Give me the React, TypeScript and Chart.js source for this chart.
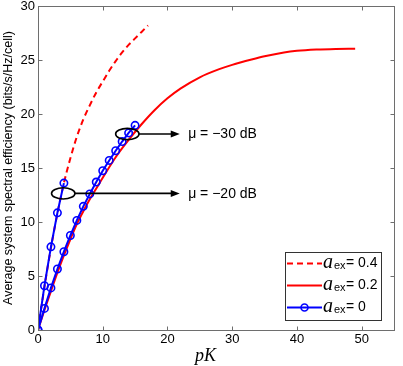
import React, { useEffect, useRef } from "react";
import { Chart, registerables } from "chart.js";

Chart.register(...registerables);

// ---- data ----
const redDashX = [0, 1, 2, 3, 4, 5, 6, 7, 8, 9, 10, 11, 12, 13, 14, 15, 16, 17];
const redDashY = [0, 4.0, 7.6, 10.8, 13.6, 15.9, 17.9, 19.5, 20.8, 22.0, 23.0, 24.0, 24.9, 25.7, 26.4, 27.0, 27.6, 28.2];

const redSolidX = [0, 1, 2, 3, 4, 5, 6, 7, 8, 9, 10, 12, 14, 16, 18, 20, 22, 25, 28, 30, 33, 35, 38, 40, 43, 46, 49];
const redSolidY = [0, 1.85, 3.6, 5.3, 6.9, 8.4, 9.8, 11.0, 12.1, 13.1, 14.1, 16.0, 17.6, 19.05, 20.35, 21.45, 22.35, 23.4, 24.15, 24.55, 25.05, 25.35, 25.7, 25.85, 25.97, 26.03, 26.05];

const blueSteepX = [0, 1, 2, 3, 4];
const blueSteepY = [0, 4.1, 7.7, 10.85, 13.6];

const blueX = [0, 1, 2, 3, 4, 5, 6, 7, 8, 9, 10, 11, 12, 13, 14, 15];
const blueY = [0, 2.0, 3.9, 5.65, 7.25, 8.75, 10.15, 11.45, 12.6, 13.7, 14.75, 15.7, 16.6, 17.45, 18.25, 18.95];

const xTicks = [0, 10, 20, 30, 40, 50];
const yTicks = [0, 5, 10, 15, 20, 25, 30];

const legendValues = ["0.4", "0.2", "0"];

const annotCX = [3.9, 13.8];
const annotCY = [12.65, 18.15];
const annotArrowEndX = [21.9, 21.9];
const annotTextX = [23.2, 23.2];
const annotTexts = ["\u03bc = \u221220 dB", "\u03bc = \u221230 dB"];

const toPts = (xs: number[], ys: number[]) => xs.map((x, i) => ({ x, y: ys[i] }));

const RED = "#ff0000";
const BLUE = "#0000ff";
const AXIS = "#6e6e6e";

const decorPlugin = {
  id: "decor",
  afterDatasetsDraw(chart: any) {
    const { ctx, chartArea, scales } = chart;
    const xs = scales.x;
    const ys = scales.y;
    const { left, right, top, bottom } = chartArea;
    ctx.save();

    // annotations
    ctx.strokeStyle = "#000";
    ctx.fillStyle = "#000";
    ctx.lineWidth = 1.6;
    for (let i = 0; i < annotCX.length; i++) {
      const cx = xs.getPixelForValue(annotCX[i]);
      const cy = ys.getPixelForValue(annotCY[i]);
      const rx = 11.7;
      const ry = 5.6;
      ctx.beginPath();
      ctx.ellipse(cx, cy, rx, ry, 0, 0, Math.PI * 2);
      ctx.stroke();
      const ax = xs.getPixelForValue(annotArrowEndX[i]);
      ctx.beginPath();
      ctx.moveTo(cx + rx, cy);
      ctx.lineTo(ax - 7, cy);
      ctx.stroke();
      ctx.beginPath();
      ctx.moveTo(ax, cy);
      ctx.lineTo(ax - 9, cy - 3.5);
      ctx.lineTo(ax - 9, cy + 3.5);
      ctx.closePath();
      ctx.fill();
      ctx.font = "14px 'Liberation Sans', Arial, sans-serif";
      ctx.textBaseline = "middle";
      ctx.textAlign = "left";
      ctx.fillText(annotTexts[i], xs.getPixelForValue(annotTextX[i]), cy + 0.5);
    }

    // axes box + inner ticks
    ctx.strokeStyle = AXIS;
    ctx.lineWidth = 1;
    const L = Math.round(left) + 0.5;
    const R = Math.round(right) + 0.5;
    const T = Math.round(top) + 0.5;
    const B = Math.round(bottom) + 0.5;
    ctx.strokeRect(L, T, R - L, B - T);
    const tl = 4;
    ctx.beginPath();
    xTicks.forEach((v) => {
      const px = Math.round(xs.getPixelForValue(v)) + 0.5;
      ctx.moveTo(px, B);
      ctx.lineTo(px, B - tl);
      ctx.moveTo(px, T);
      ctx.lineTo(px, T + tl);
    });
    yTicks.forEach((v) => {
      const py = Math.round(ys.getPixelForValue(v)) + 0.5;
      ctx.moveTo(L, py);
      ctx.lineTo(L + tl, py);
      ctx.moveTo(R, py);
      ctx.lineTo(R - tl, py);
    });
    ctx.stroke();

    // x-axis label
    ctx.fillStyle = "#000";
    ctx.font = "italic 18px 'Liberation Serif', 'DejaVu Serif', serif";
    ctx.textAlign = "left";
    ctx.textBaseline = "alphabetic";
    ctx.fillText("pK", 195, 361);

    // legend
    const bx = 285.5, by = 252.5, bw = 96, bh = 68;
    ctx.fillStyle = "#fff";
    ctx.fillRect(bx, by, bw, bh);
    ctx.strokeStyle = "#333";
    ctx.lineWidth = 1;
    ctx.strokeRect(bx, by, bw, bh);
    const rowY = [263.5, 285.5, 307.5];
    const ds = chart.data.datasets;
    const legendDs = [ds[3], ds[2], ds[0]];
    legendDs.forEach((d: any, i: number) => {
      const y = rowY[i];
      ctx.save();
      ctx.strokeStyle = d.borderColor;
      ctx.lineWidth = 2;
      ctx.setLineDash(d.borderDash || []);
      ctx.beginPath();
      ctx.moveTo(287, y);
      ctx.lineTo(322, y);
      ctx.stroke();
      ctx.setLineDash([]);
      if (d.pointRadius > 0) {
        ctx.lineWidth = 1.6;
        ctx.beginPath();
        ctx.arc(304.5, y, 3.5, 0, Math.PI * 2);
        ctx.stroke();
      }
      ctx.restore();
      ctx.fillStyle = "#000";
      ctx.textAlign = "left";
      ctx.textBaseline = "alphabetic";
      ctx.font = "italic 20px 'Liberation Serif', 'DejaVu Serif', serif";
      ctx.fillText("a", 323, y + 4.5);
      ctx.font = "11px 'Liberation Sans', Arial, sans-serif";
      ctx.fillText("ex", 334, y + 5.5);
      ctx.font = "14px 'Liberation Sans', Arial, sans-serif";
      ctx.fillText("= " + legendValues[i], 346, y + 3.5);
    });

    ctx.restore();
  },
};

export default function App() {
  const ref = useRef<HTMLCanvasElement | null>(null);
  useEffect(() => {
    if (!ref.current) return;
    const chart = new Chart(ref.current, {
      type: "line",
      data: {
        datasets: [
          {
            label: "a_ex = 0",
            data: toPts(blueX, blueY),
            borderColor: BLUE,
            backgroundColor: "rgba(0,0,0,0)",
            borderWidth: 2,
            pointRadius: 3.7,
            pointBorderWidth: 1.6,
            pointBorderColor: BLUE,
            pointBackgroundColor: "rgba(0,0,0,0)",
            tension: 0,
            order: 0,
          },
          {
            label: "a_ex = 0 (b)",
            data: toPts(blueSteepX, blueSteepY),
            borderColor: BLUE,
            backgroundColor: "rgba(0,0,0,0)",
            borderWidth: 2,
            pointRadius: 3.7,
            pointBorderWidth: 1.6,
            pointBorderColor: BLUE,
            pointBackgroundColor: "rgba(0,0,0,0)",
            tension: 0,
            order: 0,
          },
          {
            label: "a_ex = 0.2",
            data: toPts(redSolidX, redSolidY),
            borderColor: RED,
            backgroundColor: "rgba(0,0,0,0)",
            borderWidth: 2,
            pointRadius: 0,
            cubicInterpolationMode: "monotone",
            order: 1,
          },
          {
            label: "a_ex = 0.4",
            data: toPts(redDashX, redDashY),
            borderColor: RED,
            backgroundColor: "rgba(0,0,0,0)",
            borderWidth: 2,
            borderDash: [6, 4],
            pointRadius: 0,
            cubicInterpolationMode: "monotone",
            order: 2,
          },
        ],
      },
      options: {
        animation: false,
        responsive: false,
        events: [],
        layout: { padding: { top: 6, right: 9, left: 0, bottom: 0 } },
        plugins: { legend: { display: false }, tooltip: { enabled: false } },
        scales: {
          x: {
            type: "linear",
            min: 0,
            max: 55,
            grid: { display: false, drawTicks: false },
            border: { display: false },
            afterBuildTicks: (s: any) => {
              s.ticks = xTicks.map((v) => ({ value: v }));
            },
            ticks: {
              padding: 3,
              color: "#000",
              font: { family: "'Liberation Sans', Arial, sans-serif", size: 13, lineHeight: 1 },
            },
            afterFit: (s: any) => {
              s.height = 36;
              s.paddingLeft = 0;
              s.paddingRight = 0;
            },
          },
          y: {
            type: "linear",
            min: 0,
            max: 30,
            grid: { display: false, drawTicks: false },
            border: { display: false },
            afterBuildTicks: (s: any) => {
              s.ticks = yTicks.map((v) => ({ value: v }));
            },
            ticks: {
              padding: 3,
              color: "#000",
              font: { family: "'Liberation Sans', Arial, sans-serif", size: 13, lineHeight: 1 },
            },
            title: {
              display: true,
              text: "Average system spectral efficiency (bits/s/Hz/cell)",
              color: "#000",
              padding: { top: 1, bottom: 0 },
              font: { family: "'Liberation Sans', Arial, sans-serif", size: 12.5, lineHeight: 1.2 },
            },
            afterFit: (s: any) => {
              s.width = 38;
              s.paddingTop = 0;
              s.paddingBottom = 0;
            },
          },
        },
      },
      plugins: [decorPlugin],
    });
    return () => chart.destroy();
  }, []);
  return (
    <div style={{ position: "fixed", left: 0, top: 0, width: 403, height: 366, background: "#fff" }}>
      <canvas ref={ref} width={403} height={366} style={{ display: "block" }} />
    </div>
  );
}
